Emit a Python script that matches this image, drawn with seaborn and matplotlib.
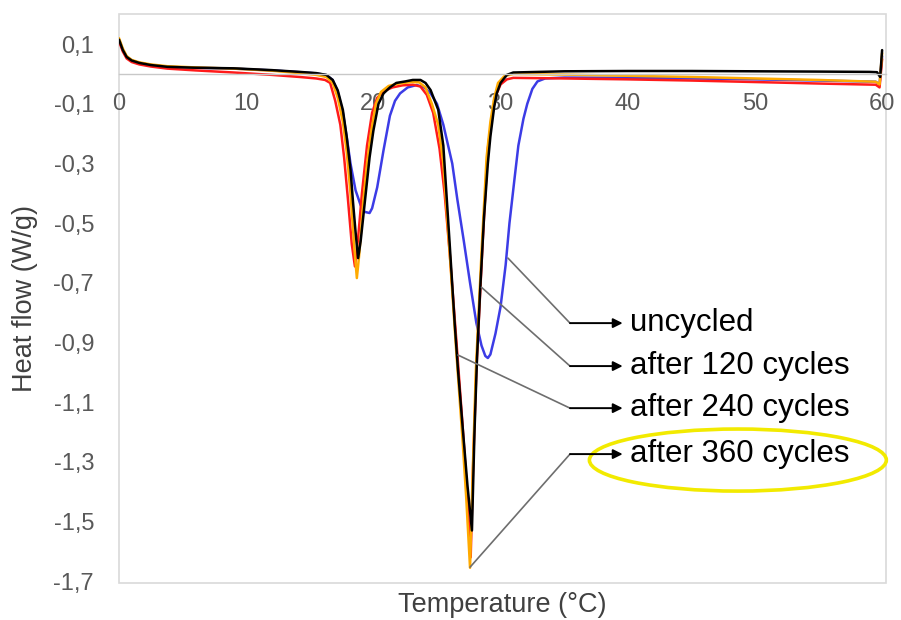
import pandas as pd
import matplotlib.pyplot as plt
import seaborn as sns
from matplotlib.patches import Ellipse

# DSC curves
uncycled_t = [0, 0.3, 0.6, 1.0, 1.6, 2.5, 3.8, 6, 9, 12, 14.2, 15.5, 16.3, 16.8, 17.2, 17.6,
              17.9, 18.2, 18.6, 19.0, 19.3, 19.7, 19.9, 20.3, 20.8, 21.3, 21.7, 22.1, 22.7,
              23.4, 24.0, 24.5, 25.0, 25.5, 26.2, 26.6, 27.1, 27.6, 28.1, 28.5, 28.8, 29.0,
              29.2, 29.6, 30.0, 30.4, 30.7, 31.1, 31.4, 31.8, 32.1, 32.5, 32.9, 33.5, 35,
              40, 45, 50, 55, 59.5, 59.8, 60.0]
uncycled_hf = [0.115, 0.08, 0.057, 0.045, 0.037, 0.03, 0.024, 0.021, 0.018, 0.012, 0.006,
               0.002, -0.004, -0.02, -0.06, -0.13, -0.21, -0.3, -0.39, -0.44, -0.462, -0.466,
               -0.45, -0.38, -0.255, -0.14, -0.09, -0.065, -0.045, -0.037, -0.045, -0.065,
               -0.1, -0.17, -0.3, -0.42, -0.557, -0.7, -0.835, -0.91, -0.945, -0.952, -0.94,
               -0.87, -0.78, -0.64, -0.5, -0.35, -0.24, -0.15, -0.1, -0.05, -0.025, -0.015,
               -0.012, -0.013, -0.015, -0.018, -0.022, -0.026, -0.035, 0.06]

c120_t = [0, 0.3, 0.6, 1.0, 1.6, 2.5, 3.8, 6, 9, 12, 14.2, 15.5, 16.2, 16.6, 17.0, 17.4,
          17.7, 18.0, 18.3, 18.55, 18.8, 19.1, 19.5, 19.9, 20.3, 20.8, 21.5, 22.3, 23.1,
          23.7, 24.2, 24.7, 25.2, 25.6, 26.0, 26.5, 27.0, 27.4, 27.65, 27.85, 28.1, 28.6,
          29.0, 29.3, 29.6, 30.0, 30.5, 31, 35, 40, 45, 50, 55, 59.5, 59.8, 60.0]
c120_hf = [0.11, 0.075, 0.052, 0.04, 0.032, 0.025, 0.018, 0.012, 0.005, -0.003, -0.01,
           -0.015, -0.02, -0.03, -0.09, -0.17, -0.28, -0.42, -0.57, -0.645, -0.55, -0.4,
           -0.24, -0.13, -0.08, -0.058, -0.045, -0.038, -0.036, -0.042, -0.07, -0.13,
           -0.25, -0.4, -0.6, -0.88, -1.17, -1.42, -1.62, -1.3, -0.99, -0.557, -0.25,
           -0.15, -0.075, -0.035, -0.018, -0.013, -0.015, -0.018, -0.022, -0.027, -0.032,
           -0.036, -0.045, 0.05]

c240_t = [0, 0.3, 0.6, 1.0, 1.6, 2.5, 3.8, 6, 9, 12, 14.2, 15.5, 16.3, 16.8, 17.2, 17.6,
          17.9, 18.2, 18.4, 18.6, 18.8, 19.0, 19.3, 19.7, 20.0, 20.4, 20.8, 21.3, 21.8,
          22.5, 23.1, 23.7, 24.1, 24.5, 25.1, 25.5, 26.0, 26.4, 26.65, 27.05, 27.4, 27.75,
          27.95, 28.15, 28.4, 28.7, 29.0, 29.2, 29.5, 29.7, 30.0, 30.5, 31, 35, 40, 45,
          50, 55, 59.0, 59.6, 59.85, 60.0]
c240_hf = [0.115, 0.08, 0.057, 0.045, 0.037, 0.03, 0.024, 0.021, 0.019, 0.013, 0.007,
           0.003, -0.003, -0.02, -0.055, -0.12, -0.21, -0.32, -0.43, -0.53, -0.617, -0.56,
           -0.44, -0.28, -0.19, -0.1, -0.065, -0.045, -0.03, -0.025, -0.02, -0.02, -0.03,
           -0.054, -0.12, -0.24, -0.57, -0.84, -0.99, -1.2, -1.38, -1.53, -1.2, -0.95,
           -0.72, -0.48, -0.3, -0.21, -0.11, -0.065, -0.03, -0.003, 0.005, 0.009, 0.01,
           0.01, 0.009, 0.008, 0.007, 0.006, -0.01, 0.08]

c360_t = [0, 0.3, 0.6, 1.0, 1.6, 2.5, 3.8, 6, 9, 12, 14.2, 15.5, 16.3, 16.8, 17.2, 17.6,
          17.9, 18.2, 18.5, 18.7, 18.9, 19.2, 19.5, 19.8, 20.2, 20.6, 21.2, 22, 23, 23.6,
          24.1, 24.6, 25.1, 25.5, 26.0, 26.5, 27.0, 27.3, 27.6, 27.8, 28.05, 28.5, 28.9,
          29.2, 29.5, 29.8, 30.3, 31, 35, 40, 45, 50, 55, 59.5, 59.8, 60.0]
c360_hf = [0.12, 0.085, 0.06, 0.047, 0.039, 0.032, 0.026, 0.022, 0.018, 0.011, 0.003,
           -0.003, -0.01, -0.03, -0.08, -0.16, -0.26, -0.4, -0.58, -0.684, -0.6, -0.43,
           -0.3, -0.2, -0.1, -0.06, -0.04, -0.032, -0.027, -0.028, -0.045, -0.1, -0.17,
           -0.3, -0.6, -0.92, -1.22, -1.42, -1.655, -1.35, -1.0, -0.6, -0.28, -0.16,
           -0.08, -0.03, -0.007, 0.0, -0.002, -0.006, -0.01, -0.015, -0.02, -0.026,
           -0.035, 0.07]

series = ['uncycled', 'after 120 cycles', 'after 240 cycles', 'after 360 cycles']
colors = ['#3c3ce6', '#ff1a1a', '#000000', '#ffaa00']
x_ticks = [0, 10, 20, 30, 40, 50, 60]
y_ticks = [0.1, -0.1, -0.3, -0.5, -0.7, -0.9, -1.1, -1.3, -1.5, -1.7]

frames = []
for name, t, hf in zip(series, [uncycled_t, c120_t, c240_t, c360_t],
                       [uncycled_hf, c120_hf, c240_hf, c360_hf]):
    frames.append(pd.DataFrame({'Temperature': t, 'Heat flow': hf, 'sample': name}))
df = pd.concat(frames, ignore_index=True)

sns.set_style('white')
plt.rcParams['font.family'] = ['Liberation Sans', 'DejaVu Sans']

fig = plt.figure(figsize=(9.01, 6.20), dpi=100)
ax = fig.add_axes([0.1321, 0.0597, 0.8513, 0.9177])

# draw order: blue, red, orange, black on top
order = ['uncycled', 'after 120 cycles', 'after 360 cycles', 'after 240 cycles']
pal = dict(zip(series, colors))
for name in order:
    sns.lineplot(data=df[df['sample'] == name], x='Temperature', y='Heat flow',
                 color=pal[name], lw=1.8, estimator=None, sort=False, ax=ax)

ax.set_xlim(0, 60.31)
ax.set_ylim(-1.706, 0.201)

# Excel-like frame and axis at y = 0
for side in ['left', 'top', 'right']:
    ax.spines[side].set_visible(False)
ax.spines['bottom'].set_position(('data', 0))
ax.spines['bottom'].set_color('#c8c8c8')
ax.spines['bottom'].set_linewidth(1)
ax.patch.set_edgecolor('#d9d9d9')
ax.patch.set_linewidth(1.2)

ax.set_xticks(x_ticks)
ax.set_xticklabels([str(v) for v in x_ticks])
ax.set_yticks(y_ticks)
ax.set_yticklabels([f'{v:.1f}'.replace('.', ',') for v in y_ticks])
ax.tick_params(axis='x', length=0, pad=14, labelsize=17, labelcolor='#595959')
ax.tick_params(axis='y', length=0, pad=18, labelsize=17, labelcolor='#595959')

ax.set_xlabel('Temperature (°C)', fontsize=19.5, color='#404040')
ax.set_ylabel('Heat flow (W/g)', fontsize=19.5, color='#404040')
ax.xaxis.set_label_coords(0.5, -0.016)
ax.yaxis.set_label_coords(-0.105, 0.5)

# callouts: (curve point), label y
callouts = [((30.58, -0.617), -0.835, 'uncycled'),
            ((28.5, -0.715), -0.979, 'after 120 cycles'),
            ((26.65, -0.942), -1.12, 'after 240 cycles'),
            ((27.6, -1.653), -1.274, 'after 360 cycles')]
elbow_x = 35.46
tip_x = 39.6
text_x = 40.15
for (px, py), ly, label in callouts:
    ax.plot([px, elbow_x], [py, ly], color='#6e6e6e', lw=1.2)
    ax.annotate('', xy=(tip_x, ly), xytext=(elbow_x, ly),
                arrowprops=dict(arrowstyle='-|>', color='black', lw=1.4,
                                mutation_scale=14, shrinkA=0, shrinkB=0))
    ax.text(text_x, ly, label, fontsize=22.5, color='black', va='center', ha='left')

ax.add_patch(Ellipse((48.66, -1.294), 23.35, 0.208, fill=False,
                     edgecolor='#f2ea00', lw=2.6, clip_on=False))

fig.savefig('out.png', dpi=100)
plt.close(fig)
